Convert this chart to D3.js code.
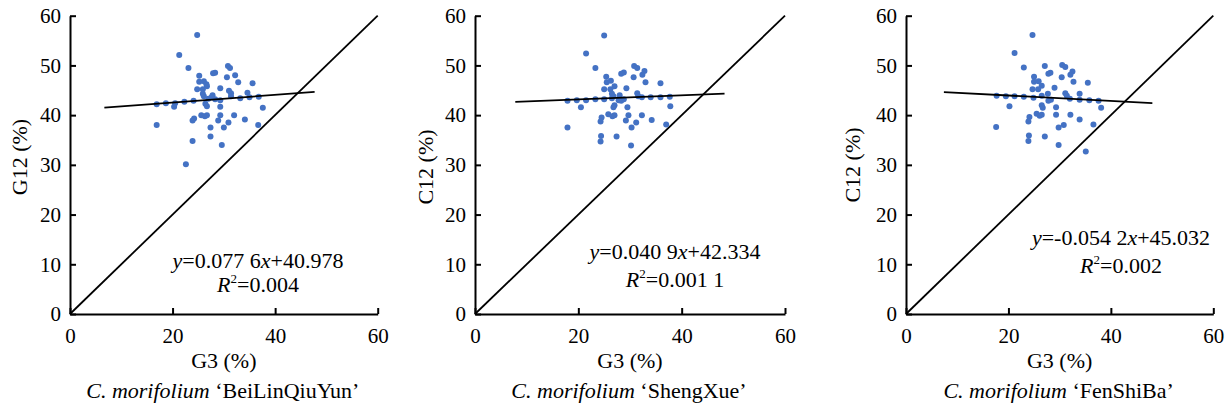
<!DOCTYPE html>
<html>
<head>
  <meta charset="UTF-8">
  <title>G3 vs G12 / C12 scatter</title>
  <script src="https://d3js.org/d3.v7.min.js"></script>
  <style>
    body { margin: 0; background: #fff; }
    svg { font-family: "Liberation Serif", "Times New Roman", serif; }
    .dot { fill: #4472C4; }
    .fit, .diag { stroke: #000; stroke-width: 1.8; fill: none; }
    .axis path, .axis line { stroke: #000; stroke-width: 2; }
  </style>
</head>
<body>
  <svg width="1229" height="409"></svg>

  <script>
    // G3 (%) on x, G12 / C12 (%) on y, one pair of arrays per cultivar
    const g3BL = [24.8, 21.3, 23.1, 30.8, 31.2, 28.3, 27.9, 25.2, 30.6, 32.2, 25.2, 26.1, 32.8, 35.6, 26.7, 24.8, 25.9, 29.3, 31.4, 31.4,
                  34.6, 26.1, 27.8, 33.2, 35.0, 36.8, 27.0, 28.3, 29.3, 24.1, 22.3, 20.5, 18.7, 16.9, 20.3, 26.7, 29.3, 37.6, 25.6, 26.3,
                  26.7, 29.3, 32.0, 24.2, 23.9, 28.9, 30.9, 34.1, 16.9, 27.4, 30.0, 36.7, 27.4, 23.9, 29.6, 22.6, 26.4, 27.6, 25.9, 31.0, 26.6];
    const g12BL = [56.1, 52.1, 49.5, 49.9, 49.5, 48.5, 48.4, 47.9, 47.6, 48.0, 46.7, 46.8, 46.6, 46.4, 45.8, 45.2, 45.2, 45.4, 44.4, 43.8,
                   44.5, 43.8, 44.0, 43.4, 43.6, 43.7, 43.3, 43.2, 43.0, 42.9, 42.7, 42.4, 42.4, 42.2, 41.7, 41.8, 41.7, 41.5, 40.0, 39.8,
                   40.0, 40.0, 40.0, 39.3, 38.9, 38.9, 38.5, 39.1, 38.0, 37.5, 37.5, 38.0, 35.7, 34.8, 34.0, 30.1, 42.3, 43.6, 44.3, 44.9, 46.2];

    const g3SX = [25.0, 21.5, 23.3, 30.8, 31.4, 32.8, 32.4, 28.8, 28.3, 25.4, 30.7, 25.5, 26.3, 33.0, 35.9, 27.0, 25.0, 26.2, 29.3, 31.4,
                  31.6, 28.0, 26.8, 32.3, 34.0, 35.9, 37.7, 28.8, 28.3, 25.0, 23.3, 21.5, 19.7, 17.9, 27.0, 29.5, 20.5, 37.8, 26.8, 25.8,
                  26.6, 27.0, 29.7, 32.3, 24.5, 24.3, 29.2, 31.2, 34.2, 17.9, 30.3, 37.0, 24.4, 27.4, 24.3, 30.2, 26.5, 27.8, 26.5];
    const c12SX = [56.0, 52.4, 49.5, 49.9, 49.5, 48.9, 48.1, 48.6, 48.3, 47.7, 47.6, 46.6, 46.9, 46.6, 46.4, 45.8, 45.2, 45.2, 45.4, 44.4,
                   43.8, 44.0, 43.8, 43.6, 43.6, 43.6, 43.7, 43.2, 42.9, 43.2, 43.2, 43.0, 43.0, 42.9, 42.0, 41.6, 41.6, 41.8, 41.6, 40.2,
                   39.8, 40.0, 40.0, 40.0, 39.5, 38.7, 38.9, 38.5, 39.0, 37.5, 37.5, 38.1, 35.8, 35.7, 34.7, 33.9, 43.4, 43.0, 44.3];

    const g3FS = [24.7, 21.2, 23.0, 27.1, 30.5, 31.1, 32.5, 32.1, 28.2, 27.8, 25.0, 30.4, 25.0, 25.9, 32.7, 35.5, 26.5, 24.7, 25.8, 29.0,
                  31.1, 31.4, 27.7, 26.5, 33.9, 32.0, 33.9, 35.8, 37.6, 28.3, 27.8, 24.9, 23.0, 21.2, 19.5, 17.7, 26.5, 26.7, 29.3, 20.2,
                  38.1, 25.5, 26.1, 26.5, 29.3, 32.1, 24.1, 23.9, 33.9, 29.8, 30.8, 17.6, 36.6, 27.1, 24.0, 23.9, 29.8, 35.1];
    const c12FS = [56.1, 52.5, 49.6, 49.9, 50.1, 49.7, 48.8, 48.1, 48.5, 48.3, 47.7, 47.6, 46.7, 46.8, 46.7, 46.5, 45.9, 45.2, 45.2, 45.5,
                   44.4, 43.9, 44.3, 43.9, 44.3, 43.3, 43.1, 43.0, 42.9, 43.1, 42.9, 43.5, 43.7, 43.8, 43.8, 43.9, 42.0, 41.5, 41.6, 41.8,
                   41.5, 40.3, 39.9, 40.1, 40.1, 40.1, 39.6, 38.7, 39.1, 37.5, 38.0, 37.6, 38.1, 35.7, 35.9, 34.8, 34.0, 32.7];

    const cultivars = ["BeiLinQiuYun", "ShengXue", "FenShiBa"];
    const yLabels = ["G12 (%)", "C12 (%)", "C12 (%)"];
    const slopes = [0.0776, 0.0409, -0.0542];
    const intercepts = [40.978, 42.334, 45.032];
    const slopeText = ["0.077 6", "0.040 9", "-0.054 2"];
    const interceptText = ["40.978", "42.334", "45.032"];
    const r2Text = ["0.004", "0.001 1", "0.002"];
    const fitRange = [[6.7, 47.7], [7.8, 48.3], [7.4, 48.1]];
    const ticks = [0, 10, 20, 30, 40, 50, 60];

    const xs = [g3BL, g3SX, g3FS];
    const ys = [g12BL, c12SX, c12FS];

    // panel placement (origin of the axes and their length)
    const panels = [
      { left: 70, right: 377.7, labelX: 27, labelY: 157, eqX: 188, eqY: [268, 292] },
      { left: 475, right: 785, labelX: 433, labelY: 167, eqX: 200, eqY: [259, 287] },
      { left: 906, right: 1213.3, labelX: 860, labelY: 165, eqX: 215, eqY: [245, 273] }
    ];
    const plotTop = 15.7, plotBottom = 314;
    const fs = 21;

    const svg = d3.select("svg");

    panels.forEach((p, k) => {
      const x = d3.scaleLinear().domain([0, 60]).range([p.left, p.right]);
      const y = d3.scaleLinear().domain([0, 60]).range([plotBottom, plotTop]);

      const g = svg.append("g");

      g.append("g")
        .attr("class", "x axis")
        .attr("transform", `translate(0,${plotBottom})`)
        .call(d3.axisBottom(x).tickValues([0, 20, 40, 60]).tickSize(-6).tickSizeOuter(0).tickPadding(14))
        .attr("font-family", null)
        .attr("font-size", fs);

      g.append("g")
        .attr("class", "y axis")
        .attr("transform", `translate(${p.left},0)`)
        .call(d3.axisLeft(y).tickValues(ticks).tickSize(-6).tickSizeOuter(0).tickPadding(9))
        .attr("font-family", null)
        .attr("font-size", fs);

      g.selectAll(".axis text").attr("fill", "#000");

      // 1:1 line
      g.append("line")
        .attr("class", "diag")
        .attr("x1", x(0)).attr("y1", y(0))
        .attr("x2", x(60)).attr("y2", y(60));

      g.selectAll(".dot")
        .data(xs[k])
        .enter().append("circle")
        .attr("class", "dot")
        .attr("cx", d => x(d))
        .attr("cy", (d, i) => y(ys[k][i]))
        .attr("r", 3);

      // fitted line
      const [x0, x1] = fitRange[k];
      g.append("line")
        .attr("class", "fit")
        .attr("x1", x(x0)).attr("y1", y(slopes[k] * x0 + intercepts[k]))
        .attr("x2", x(x1)).attr("y2", y(slopes[k] * x1 + intercepts[k]));

      // equation
      const eq = g.append("text")
        .attr("x", p.left + p.eqX).attr("y", p.eqY[0])
        .attr("text-anchor", "middle").attr("font-size", fs + 1);
      eq.append("tspan").attr("font-style", "italic").text("y");
      eq.append("tspan").text(`=${slopeText[k]}`);
      eq.append("tspan").attr("font-style", "italic").text("x");
      eq.append("tspan").text(`+${interceptText[k]}`);

      const r2 = g.append("text")
        .attr("x", p.left + p.eqX).attr("y", p.eqY[1])
        .attr("text-anchor", "middle").attr("font-size", fs + 1);
      r2.append("tspan").attr("font-style", "italic").text("R");
      r2.append("tspan").attr("font-size", 13).attr("dy", -9).text("2");
      r2.append("tspan").attr("dy", 9).text(`=${r2Text[k]}`);

      // axis titles
      g.append("text")
        .attr("x", (p.left + p.right) / 2).attr("y", 368)
        .attr("text-anchor", "middle").attr("font-size", fs + 1)
        .text("G3 (%)");

      g.append("text")
        .attr("transform", `translate(${p.labelX},${p.labelY}) rotate(-90)`)
        .attr("text-anchor", "middle").attr("font-size", fs + 1)
        .text(yLabels[k]);

      const sub = g.append("text")
        .attr("x", (p.left + p.right) / 2 - 1).attr("y", 398)
        .attr("text-anchor", "middle").attr("font-size", fs + 1);
      sub.append("tspan").attr("font-style", "italic").text("C. morifolium");
      sub.append("tspan").text(` \u2018${cultivars[k]}\u2019`);
    });
  </script>
</body>
</html>
